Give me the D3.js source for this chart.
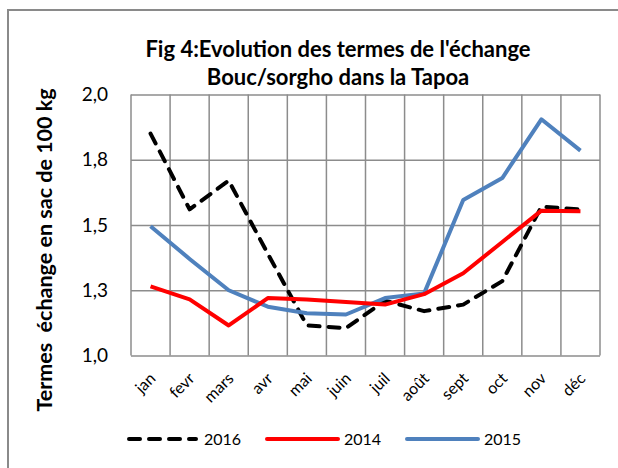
<!DOCTYPE html>
<html>
<head>
<meta charset="utf-8">
<script src="https://cdn.jsdelivr.net/npm/d3@7"></script>
<style>
  body { margin: 0; background: #fff; }
  svg { display: block; font-family: Lato, "Open Sans", sans-serif; }
  .grid line { stroke: #8c8c8c; stroke-width: 1.5; }
  .grid path { display: none; }
</style>
</head>
<body>
<svg></svg>
<script>
(function() {

  const months = ['jan', 'fevr', 'mars', 'avr', 'mai', 'juin', 'juil', 'août', 'sept', 'oct', 'nov', 'déc']
  const yTicks = [1.0, 1.25, 1.5, 1.75, 2.0]

  const values2016 = [1.85, 1.56, 1.67, 1.39, 1.115, 1.105, 1.21, 1.17, 1.195, 1.285, 1.57, 1.56]
  const values2014 = [1.265, 1.215, 1.115, 1.22, 1.215, 1.205, 1.195, 1.235, 1.315, 1.435, 1.555, 1.553]
  const values2015 = [1.495, 1.37, 1.25, 1.187, 1.162, 1.157, 1.22, 1.238, 1.596, 1.68, 1.905, 1.785]

  const series = [
    {name: '2016', values: values2016, color: '#000000', dash: '11,9'},
    {name: '2015', values: values2015, color: '#4f81bd', dash: null},
    {name: '2014', values: values2014, color: '#ff0000', dash: null}
  ]
  const legendOrder = ['2016', '2014', '2015']

  const svgWidth = 618
  const svgHeight = 468
  const plot = {left: 131, right: 600, top: 94.5, bottom: 355.5}

  const svg = d3.select('svg')
    .attr('width', svgWidth)
    .attr('height', svgHeight)

  // chart border (right and bottom run off the picture)
  svg.append('rect')
    .attr('x', 8).attr('y', 10)
    .attr('width', 640).attr('height', 500)
    .attr('fill', 'none')
    .attr('stroke', '#8a8a8a')
    .attr('stroke-width', 2)

  const x = d3.scaleBand()
    .domain(months)
    .range([plot.left, plot.right])

  const y = d3.scaleLinear()
    .domain([1, 2])
    .range([plot.bottom, plot.top])

  const fmt = d => d3.format('.1f')(d).replace('.', ',')

  // horizontal grid + y labels
  svg.append('g')
    .attr('class', 'grid')
    .attr('transform', `translate(${plot.left},0)`)
    .call(d3.axisLeft(y).tickValues(yTicks).tickSize(-(plot.right - plot.left)).tickFormat(''))

  svg.append('g')
    .selectAll('text')
    .data(yTicks)
    .enter()
    .append('text')
    .attr('x', 108)
    .attr('y', d => y(d))
    .attr('dy', '0.35em')
    .attr('text-anchor', 'end')
    .style('font-size', '19px')
    .attr('fill', '#000')
    .text(fmt)

  // vertical grid at category boundaries
  const bounds = months.map(m => x(m)).concat([plot.right])
  svg.append('g')
    .attr('class', 'grid')
    .selectAll('line')
    .data(bounds)
    .enter()
    .append('line')
    .attr('x1', d => d).attr('x2', d => d)
    .attr('y1', plot.top).attr('y2', plot.bottom)

  // x labels
  svg.append('g')
    .selectAll('text')
    .data(months)
    .enter()
    .append('text')
    .attr('transform', d => `translate(${x(d) + x.bandwidth() / 2 + 6},${plot.bottom + 24}) rotate(-45)`)
    .attr('text-anchor', 'end')
    .style('font-size', '16px')
    .text(d => d)

  // lines
  const line = d3.line()
    .x((d, i) => x(months[i]) + x.bandwidth() / 2)
    .y(d => y(d))

  svg.append('g')
    .selectAll('path')
    .data(series)
    .enter()
    .append('path')
    .attr('d', d => line(d.values))
    .attr('fill', 'none')
    .attr('stroke', d => d.color)
    .attr('stroke-width', 4)
    .attr('stroke-linejoin', 'round')
    .attr('stroke-linecap', d => d.dash ? 'round' : 'butt')
    .attr('stroke-dasharray', d => d.dash)

  // titles
  const title = svg.append('text')
    .attr('text-anchor', 'middle')
    .style('font-weight', 'bold')
    .style('font-size', '22px')
  title.append('tspan').attr('x', 338).attr('y', 57).text("Fig 4:Evolution des termes de l'échange")
  title.append('tspan').attr('x', 338).attr('y', 85).text('Bouc/sorgho dans la Tapoa')

  svg.append('text')
    .attr('transform', 'translate(52,250) rotate(-90)')
    .attr('text-anchor', 'middle')
    .style('font-weight', 'bold')
    .style('font-size', '21.5px')
    .style('white-space', 'pre')
    .text('Termes  échange en sac de 100 kg')

  // legend
  const legendX = [127, 267, 407]
  const legend = svg.append('g')
    .selectAll('g')
    .data(legendOrder.map(n => series.find(s => s.name === n)))
    .enter()
    .append('g')
    .attr('transform', (d, i) => `translate(${legendX[i]},439)`)

  legend.append('line')
    .attr('x1', d => d.dash ? 2 : 0).attr('x2', d => d.dash ? 69 : 71)
    .attr('stroke', d => d.color)
    .attr('stroke-width', 4)
    .attr('stroke-linecap', 'round')
    .attr('stroke-dasharray', d => d.dash)

  legend.append('text')
    .attr('x', 77)
    .attr('dy', '0.35em')
    .style('font-size', '16px')
    .text(d => d.name)

})()
</script>
</body>
</html>
